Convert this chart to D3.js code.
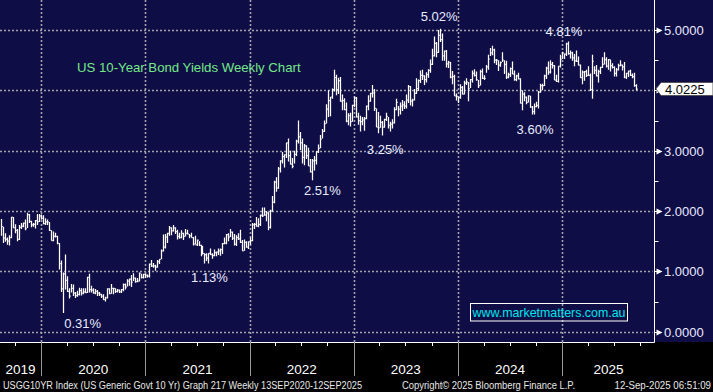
<!DOCTYPE html>
<html><head><meta charset="utf-8">
<script src="https://cdn.jsdelivr.net/npm/d3@7"></script>
<style>html,body{margin:0;padding:0;background:#000;overflow:hidden}svg{display:block}</style>
</head><body><svg id="c" width="713" height="392"></svg>
<script>
// ---------------- DATA ----------------
const firstWeekEnding = "2019-08-09"; // weekly bars, Friday week-ending
const weekHigh = [
// 2019 Aug-Dec
1.87,1.74,1.63,1.56,1.60,1.90,1.90,1.78,1.70,1.77,1.80,1.81,1.86,1.97,1.95,1.84,1.80,1.85,1.95,1.95,1.94,
// 2020
1.93,1.88,1.86,1.82,1.68, 1.66,1.64,1.59,1.47, 1.18,0.98,1.28,0.92, 0.72,0.79,0.78,0.66,
0.68,0.73,0.72,0.72,0.72, 0.91,0.96,0.76,0.72, 0.71,0.69,0.66,0.63,0.62, 0.58,0.72,0.72,0.79,
0.73,0.72,0.71,0.70, 0.71,0.80,0.80,0.87,0.88, 0.94,0.97,0.90,0.89, 0.98,0.96,0.96,0.96,
// 2021
0.95,1.13,1.19,1.14,1.11, 1.19,1.20,1.36,1.61, 1.62,1.64,1.75,1.73, 1.77,1.73,1.69,1.64,1.68,
1.64,1.70,1.69,1.62, 1.64,1.57,1.59,1.53, 1.50,1.44,1.42,1.30,1.30, 1.30,1.38,1.30,1.36,
1.33,1.38,1.38,1.47, 1.56,1.62,1.63,1.70,1.66, 1.62,1.60,1.63,1.69, 1.52,1.53,1.50,1.50,1.56,
// 2022
1.80,1.80,1.90,1.88, 1.94,2.06,2.06,2.00, 1.98,2.02,2.25,2.50, 2.56,2.73,2.84,2.98,2.94,
3.13,3.20,3.00,2.88, 3.00,3.18,3.50,3.31, 3.20,3.11,3.09,3.05,2.86, 2.86,2.91,2.99,3.10,
3.26,3.36,3.50,3.77,4.00, 3.89,4.03,4.34,4.26, 4.21,4.22,3.93,3.87, 3.80,3.62,3.63,3.76,3.90,
// 2023
3.89,3.63,3.58,3.56, 3.56,3.75,3.92,3.96, 4.09,4.02,3.70,3.64,3.58, 3.49,3.53,3.63,3.56,
3.48,3.52,3.72,3.86, 3.74,3.80,3.84,3.82,3.93, 4.09,4.07,3.86,4.02, 4.20,4.18,4.33,4.34,
4.25,4.30,4.35,4.51,4.69, 4.89,4.80,5.00,5.02, 4.94,4.66,4.67,4.49, 4.47,4.32,4.26,3.95,3.90,
// 2024
4.10,4.07,4.16,4.20, 4.14,4.19,4.33,4.35, 4.31,4.17,4.34,4.36,4.25, 4.42,4.59,4.70,4.74,
4.69,4.52,4.50,4.48,4.63, 4.50,4.49,4.29,4.38, 4.48,4.33,4.26,4.29, 4.20,4.00,3.97,3.90,3.92,
3.91,3.74,3.78,3.81, 3.99,4.11,4.11,4.26, 4.39,4.48,4.50,4.47,4.42, 4.26,4.40,4.59,4.64,
// 2025
4.61,4.79,4.81,4.66,4.64, 4.60,4.66,4.56,4.43, 4.33,4.32,4.34,4.40, 4.28,4.59,4.40,4.42,
4.34,4.39,4.55,4.63,4.55, 4.52,4.51,4.45,4.40, 4.37,4.44,4.50,4.43, 4.47,4.29,4.33,4.34,4.28,
4.29,4.10
];
const weekLow = [
// 2019 Aug-Dec
1.59,1.47,1.49,1.44,1.43,1.55,1.72,1.63,1.50,1.52,1.70,1.73,1.68,1.72,1.80,1.73,1.74,1.71,1.77,1.82,1.86,
// 2020
1.78,1.77,1.77,1.67,1.51, 1.50,1.56,1.45,1.03, 0.66,0.31,0.70,0.66, 0.55,0.65,0.59,0.56,
0.58,0.60,0.60,0.62,0.64, 0.64,0.65,0.65,0.63, 0.62,0.59,0.59,0.56,0.53, 0.50,0.55,0.62,0.63,
0.62,0.64,0.65,0.64, 0.64,0.67,0.70,0.75,0.76, 0.74,0.84,0.81,0.82, 0.83,0.88,0.88,0.89,
// 2021
0.90,0.90,1.07,1.06,1.01, 1.06,1.12,1.20,1.33, 1.38,1.47,1.59,1.60, 1.66,1.62,1.53,1.54,1.55,
1.52,1.58,1.61,1.55, 1.56,1.43,1.45,1.42, 1.42,1.25,1.28,1.13,1.17, 1.13,1.27,1.21,1.25,
1.25,1.27,1.26,1.29, 1.45,1.45,1.50,1.57,1.52, 1.43,1.42,1.52,1.47, 1.34,1.34,1.39,1.37,1.44,
// 2022
1.50,1.70,1.74,1.73, 1.75,1.90,1.92,1.83, 1.68,1.71,1.99,2.13, 2.32,2.37,2.64,2.79,2.72,
2.88,2.82,2.77,2.71, 2.79,2.91,3.12,3.01, 2.79,2.76,2.86,2.75,2.64, 2.51,2.67,2.77,2.96,
3.04,3.20,3.31,3.45,3.56, 3.57,3.86,3.98,3.92, 3.94,3.81,3.67,3.67, 3.47,3.42,3.40,3.48,3.72,
// 2023
3.55,3.43,3.32,3.42, 3.33,3.52,3.67,3.81, 3.88,3.66,3.39,3.29,3.38, 3.25,3.38,3.49,3.37,
3.32,3.37,3.45,3.67, 3.57,3.60,3.66,3.69,3.70, 3.79,3.75,3.73,3.83, 3.94,3.99,4.12,4.17,
4.09,4.13,4.21,4.29,4.42, 4.56,4.55,4.62,4.80, 4.49,4.49,4.38,4.37, 4.20,4.10,3.91,3.83,3.79,
// 2024
3.86,3.93,3.93,4.09, 3.82,4.04,4.13,4.23, 4.16,4.04,4.08,4.19,4.17, 4.29,4.34,4.57,4.58,
4.45,4.42,4.32,4.39,4.47, 4.27,4.19,4.20,4.22, 4.27,4.16,4.15,4.18, 3.78,3.67,3.82,3.77,3.80,
3.71,3.60,3.60,3.72, 3.70,3.96,4.00,4.07, 4.19,4.26,4.28,4.36,4.17, 4.14,4.13,4.38,4.52,
// 2025
4.52,4.57,4.59,4.53,4.49, 4.40,4.47,4.41,4.21, 4.10,4.16,4.22,4.24, 3.99,3.86,4.27,4.23,
4.13,4.27,4.37,4.43,4.38, 4.34,4.31,4.36,4.23, 4.23,4.33,4.40,4.33, 4.20,4.19,4.22,4.24,4.20,
4.06,4.00
];
const weekClose = [
// 2019 Aug-Dec
1.74,1.55,1.53,1.50,1.56,1.90,1.72,1.68,1.53,1.73,1.75,1.80,1.71,1.94,1.83,1.77,1.78,1.84,1.82,1.92,1.88,
// 2020
1.79,1.82,1.82,1.68,1.51, 1.58,1.58,1.47,1.13, 0.71,0.96,0.85,0.67, 0.59,0.72,0.64,0.60,
0.62,0.68,0.64,0.66,0.65, 0.90,0.70,0.69,0.64, 0.67,0.64,0.62,0.59,0.53, 0.56,0.71,0.63,0.72,
0.72,0.67,0.69,0.66, 0.70,0.78,0.74,0.84,0.87, 0.82,0.89,0.83,0.84, 0.97,0.90,0.95,0.94,
// 2021
0.92,1.12,1.09,1.09,1.07, 1.16,1.20,1.34,1.40, 1.57,1.63,1.72,1.67, 1.72,1.66,1.58,1.56,1.63,
1.58,1.63,1.62,1.59, 1.56,1.45,1.44,1.52, 1.43,1.36,1.30,1.28,1.22, 1.30,1.28,1.26,1.31,
1.32,1.34,1.36,1.46, 1.47,1.61,1.57,1.65,1.55, 1.45,1.56,1.54,1.48, 1.34,1.48,1.40,1.49,1.51,
// 2022
1.77,1.78,1.75,1.78, 1.93,1.92,1.93,1.97, 1.73,2.00,2.15,2.48, 2.38,2.70,2.83,2.90,2.93,
3.13,2.92,2.78,2.74, 2.94,3.16,3.23,3.13, 2.89,3.08,2.92,2.75,2.65, 2.83,2.84,2.98,3.04,
3.19,3.32,3.45,3.69,3.83, 3.89,4.01,4.21,4.01, 4.16,3.82,3.83,3.68, 3.49,3.58,3.48,3.75,3.87,
// 2023
3.56,3.50,3.48,3.51, 3.53,3.74,3.82,3.95, 3.96,3.70,3.39,3.38,3.47, 3.39,3.52,3.57,3.42,
3.44,3.46,3.68,3.80, 3.69,3.74,3.76,3.74,3.84, 4.06,3.82,3.84,3.95, 4.03,4.16,4.25,4.24,
4.18,4.26,4.33,4.43,4.57, 4.78,4.63,4.91,4.84, 4.57,4.65,4.44,4.47, 4.22,4.23,3.91,3.90,3.88,
// 2024
4.05,3.94,4.12,4.14, 4.03,4.18,4.28,4.25, 4.18,4.08,4.31,4.20,4.20, 4.39,4.52,4.62,4.67,
4.50,4.50,4.42,4.46,4.50, 4.43,4.22,4.26,4.36, 4.27,4.18,4.24,4.19, 3.79,3.94,3.89,3.80,3.91,
3.72,3.65,3.73,3.75, 3.97,4.08,4.08,4.24, 4.37,4.30,4.43,4.41,4.17, 4.15,4.40,4.52,4.62,
// 2025
4.60,4.77,4.61,4.62,4.54, 4.49,4.48,4.42,4.21, 4.30,4.31,4.25,4.25, 4.01,4.48,4.33,4.24,
4.31,4.38,4.43,4.51,4.40, 4.51,4.41,4.38,4.28, 4.34,4.41,4.42,4.39, 4.22,4.28,4.32,4.25,4.23,
4.08,4.02
];
const yTicks = [0, 1, 2, 3, 4, 5];
const yMinorTicks = [0.5, 1.5, 2.5, 3.5, 4.5];
const yearStarts = ["2020-01-01","2021-01-01","2022-01-01","2023-01-01","2024-01-01","2025-01-01"];
const yearLabels = ["2019","2020","2021","2022","2023","2024","2025"];
const lastPrice = 4.0225;
const annotLabels = ["0.31%","1.13%","2.51%","3.25%","5.02%","3.60%","4.81%"];
const annotDates  = ["2020-03-13","2021-07-23","2022-08-05","2023-04-07","2023-10-27","2024-09-13","2025-01-17"];
const annotValues = [0.31, 1.13, 2.51, 3.25, 5.02, 3.60, 4.81];
const titleText = "US 10-Year Bond Yields Weekly Chart";
const watermark = "www.marketmatters.com.au";
const footerLeft = "USGG10YR Index (US Generic Govt 10 Yr) Graph 217  Weekly 13SEP2020-12SEP2025";
const footerMid = "Copyright\u00A9 2025 Bloomberg Finance L.P.";
const footerRight = "12-Sep-2025 06:51:09";

// ---------------- DRAW ----------------
const W = 713, H = 392;
const plotRight = 654.5, plotBottom = 342;
const FONT = "'Liberation Sans', Arial, sans-serif";
const parse = d3.utcParse("%Y-%m-%d");
const svg = d3.select("#c");

const x = d3.scaleUtc().domain([parse("2020-01-01"), parse("2025-01-01")]).range([41, 562.3]);
const y = d3.scaleLinear().domain([0, 5]).range([331.7, 30]);

// backgrounds
svg.append("rect").attr("x",0).attr("y",0).attr("width",W).attr("height",H).attr("fill","#000");
svg.append("rect").attr("x",0).attr("y",0).attr("width",W).attr("height",plotBottom).attr("fill","#0f0d46");

// grid
const grid = svg.append("g").attr("stroke","#a2a2a8").attr("stroke-width",1.6).attr("stroke-dasharray","2,2");
yTicks.forEach(v => {
  grid.append("line").attr("x1",0).attr("x2",plotRight-2).attr("y1",Math.round(y(v))+0.5).attr("y2",Math.round(y(v))+0.5);
});
yearStarts.forEach(d => {
  const xx = Math.round(x(parse(d)))+0.5;
  grid.append("line").attr("x1",xx).attr("x2",xx).attr("y1",0).attr("y2",plotBottom);
});

// title
svg.append("text").attr("x",77).attr("y",71.5).attr("fill","#74e887")
  .attr("font-family",FONT).attr("font-size",13.2).text(titleText);

// bars
const start = parse(firstWeekEnding);
const bars = svg.append("g").attr("stroke","#ffffff").attr("stroke-width",1.25).attr("fill","none");
let pathD = "";
weekHigh.forEach((h, i) => {
  const d = d3.utcDay.offset(d3.utcWeek.offset(start, i), 4);
  const xx = Math.round(x(d)) + 0.5;
  const yH = y(h), yL = y(weekLow[i]), yC = y(weekClose[i]);
  pathD += `M${xx},${yH.toFixed(1)}V${yL.toFixed(1)}M${xx},${yC.toFixed(1)}H${xx+1.2}`;
});
bars.append("path").attr("d", pathD);

// annotations
const annotOffsets = [[20,10],[5,14],[10,10.5],[3,13.5],[-1,-12],[3,14.5],[-4,-10]];
annotLabels.forEach((t,i) => {
  const d = d3.utcDay.offset(parse(annotDates[i]), 4);
  svg.append("text").attr("x", x(d)+annotOffsets[i][0]).attr("y", y(annotValues[i])+annotOffsets[i][1]+4.7)
    .attr("text-anchor","middle").attr("fill","#e6ecff").attr("font-family",FONT).attr("font-size",13)
    .text(t);
});

// watermark
svg.append("rect").attr("x",470.5).attr("y",303.5).attr("width",157).attr("height",17.5)
  .attr("fill","none").attr("stroke","#ffffff").attr("stroke-width",1);
svg.append("text").attr("x",549).attr("y",316.6).attr("text-anchor","middle").attr("fill","#00e4ec")
  .attr("font-family",FONT).attr("font-size",13).attr("textLength",153).attr("lengthAdjust","spacingAndGlyphs")
  .text(watermark);

// right axis
svg.append("line").attr("x1",plotRight).attr("x2",plotRight).attr("y1",0).attr("y2",plotBottom+0.5)
  .attr("stroke","#fff").attr("stroke-width",1);
yMinorTicks.forEach(v => {
  const yy = Math.round(y(v))+0.5;
  svg.append("line").attr("x1",plotRight).attr("x2",plotRight+4).attr("y1",yy).attr("y2",yy).attr("stroke","#fff");
});
yTicks.forEach(v => {
  const yy = Math.round(y(v))+0.5;
  svg.append("line").attr("x1",plotRight).attr("x2",plotRight+3).attr("y1",yy).attr("y2",yy).attr("stroke","#fff");
  svg.append("path").attr("d",`M${plotRight+2},${yy-3}L${plotRight+8},${yy}L${plotRight+2},${yy+3}Z`).attr("fill","#fff");
  svg.append("text").attr("x",664).attr("y",yy+4.8).attr("fill","#e8e8ff")
    .attr("font-family",FONT).attr("font-size",13).text(d3.format(".4f")(v));
});

// last price label
const yp = y(lastPrice);
svg.append("path").attr("d",`M656,${yp}L661,${yp-6.5}H713V${yp+6.5}H661Z`)
  .attr("fill","#ffffff").attr("stroke","#444").attr("stroke-width",0.8);
svg.append("text").attr("x",665).attr("y",yp+4.8).attr("fill","#000")
  .attr("font-family",FONT).attr("font-size",13).text(d3.format(".4f")(lastPrice));

// bottom axis
svg.append("line").attr("x1",0).attr("x2",plotRight).attr("y1",plotBottom+0.5).attr("y2",plotBottom+0.5)
  .attr("stroke","#fff").attr("stroke-width",1);
const quarters = d3.utcMonth.every(3).range(parse("2019-10-01"), parse("2025-11-01"));
quarters.forEach(d => {
  const xx = Math.round(x(d))+0.5;
  svg.append("line").attr("x1",xx).attr("x2",xx).attr("y1",plotBottom).attr("y2",plotBottom+4).attr("stroke","#fff");
});
yearStarts.forEach(d => {
  const xx = Math.round(x(parse(d)))+0.5;
  svg.append("line").attr("x1",xx).attr("x2",xx).attr("y1",plotBottom).attr("y2",376)
    .attr("stroke","#9a9a9a").attr("stroke-width",1);
});
const bounds = [0, ...yearStarts.map(d => x(parse(d))), plotRight];
yearLabels.forEach((t,i) => {
  svg.append("text").attr("x",(bounds[i]+bounds[i+1])/2).attr("y",373.5).attr("text-anchor","middle")
    .attr("fill","#ffffff").attr("font-family",FONT).attr("font-size",13.5).text(t);
});

// footer
const foot = (t, xx, len) => svg.append("text").attr("x",xx).attr("y",388.5).attr("fill","#e8e8e8")
  .attr("font-family",FONT).attr("font-size",10).attr("textLength",len).attr("lengthAdjust","spacingAndGlyphs").text(t);
foot(footerLeft, 3, 359);
foot(footerMid, 402, 173);
foot(footerRight, 614.5, 96.5);
</script>
</body></html>
